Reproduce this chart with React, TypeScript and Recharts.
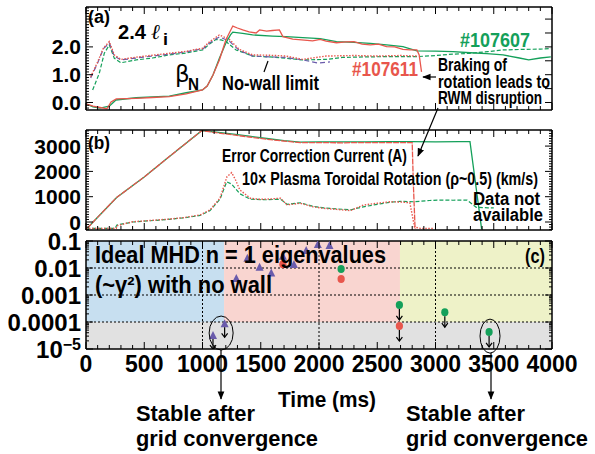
import React from 'react';
import { ComposedChart, Line, Scatter, XAxis, YAxis, ReferenceArea, ReferenceLine, ReferenceDot } from 'recharts';

// colours
const RED = '#e8564c';
const GREEN = '#14a05a';
const PURPLE = '#6a5bab';
const FONT = '"Liberation Sans", Arial, sans-serif';
const NARROW = '"Liberation Sans Narrow", "Liberation Sans", Arial, sans-serif';

// ---------- panel (a): beta_N, 2.4 li and no-wall limit ----------
const betaRedT = [0, 60, 120, 180, 215, 260, 350, 430, 570, 715, 860, 1000, 1040, 1090, 1145, 1200, 1260, 1300, 1345, 1400, 1460, 1490, 1550, 1600, 1660, 1690, 1775, 1850, 1945, 2010, 2060, 2150, 2230, 2300, 2370, 2440, 2510, 2580, 2650, 2720, 2780, 2840, 2860, 2880];
const betaRedV = [-0.05, -0.13, -0.18, -0.23, 0.02, 0.13, 0.14, 0.15, 0.18, 0.21, 0.31, 0.45, 0.59, 0.99, 1.53, 2.25, 2.75, 2.68, 2.61, 2.54, 2.5, 2.61, 2.57, 2.59, 2.61, 2.37, 2.28, 2.25, 2.22, 2.27, 2.21, 2.15, 2.18, 2.19, 2.1, 2.07, 2.1, 2.01, 2.0, 1.91, 1.89, 1.89, 1.71, 1.1];

const betaGreenT = [0, 60, 120, 200, 257, 430, 570, 715, 860, 1000, 1040, 1090, 1145, 1200, 1240, 1260, 1345, 1430, 1600, 1717, 1860, 2010, 2150, 2300, 2440, 2580, 2720, 2840, 3000, 3150, 3300, 3440, 3580, 3720, 3800, 3900, 3990];
const betaGreenV = [-0.05, -0.16, -0.2, -0.13, 0.09, 0.17, 0.2, 0.23, 0.35, 0.45, 0.59, 0.99, 1.59, 2.13, 2.43, 2.53, 2.49, 2.43, 2.39, 2.37, 2.33, 2.3, 2.19, 2.16, 2.13, 2.07, 2.01, 1.86, 1.85, 1.83, 1.79, 1.76, 1.71, 1.6, 1.53, 1.6, 1.64];

const liGreenT = [57, 114, 157, 200, 243, 300, 430, 570, 715, 860, 944, 1001, 1060, 1116, 1160, 1202, 1288, 1431, 1575, 1717, 1860, 2060, 2200, 2400, 2600, 2840, 3000, 3150, 3295, 3450, 3580, 3750, 3900, 3990];
const liGreenV = [0.45, 1.05, 1.77, 2.07, 1.59, 1.43, 1.53, 1.6, 1.71, 1.78, 1.85, 1.89, 2.1, 2.27, 2.25, 2.19, 1.89, 1.67, 1.64, 1.59, 1.53, 1.55, 1.62, 1.64, 1.65, 1.65, 1.69, 1.74, 1.77, 1.83, 1.89, 1.91, 1.92, 1.94];

const liRedT = [40, 100, 150, 200, 243, 300, 430, 570, 715, 860, 944, 1001, 1060, 1144, 1230, 1316, 1431, 1575, 1717, 1860, 2060, 2300, 2500, 2700, 2840];
const liRedV = [0.92, 1.46, 1.96, 2.19, 1.71, 1.55, 1.63, 1.7, 1.77, 1.84, 1.91, 1.95, 2.18, 2.43, 2.27, 1.91, 1.71, 1.7, 1.67, 1.55, 1.67, 1.69, 1.67, 1.69, 1.67];

const noWallT = [40, 100, 150, 200, 243, 300, 430, 570, 715, 860, 944, 1001, 1060, 1144, 1230, 1316, 1431, 1575, 1717, 1860, 1990, 2094];
const noWallV = [0.88, 1.42, 1.94, 2.14, 1.67, 1.53, 1.6, 1.67, 1.74, 1.82, 1.89, 1.92, 2.14, 2.36, 2.21, 1.87, 1.67, 1.64, 1.62, 1.53, 1.42, 1.46];

// ---------- panel (b): error correction current and rotation ----------
const ecRedT = [10, 63, 263, 500, 700, 993, 1100, 1266, 1400, 1552, 1700, 1838, 2000, 2200, 2400, 2600, 2800, 2810, 2825];
const ecRedV = [-250, 10, 970, 1780, 2530, 3610, 3540, 3440, 3360, 3270, 3200, 3135, 3140, 3130, 3140, 3135, 3140, 1500, -280];

const ecGreenT = [10, 63, 263, 500, 700, 993, 1100, 1266, 1400, 1552, 1700, 1838, 2000, 2200, 2400, 2600, 2800, 3000, 3200, 3296, 3396];
const ecGreenV = [-250, 10, 970, 1780, 2530, 3610, 3560, 3470, 3390, 3300, 3220, 3160, 3170, 3165, 3170, 3175, 3175, 3170, 3175, 3175, -280];

const rotRedT = [0, 260, 265, 400, 550, 700, 850, 980, 1065, 1150, 1210, 1250, 1280, 1320, 1410, 1480, 1550, 1670, 1725, 1840, 1950, 2040, 2150, 2270, 2380, 2500, 2610, 2700, 2780, 2820, 2870, 2985];
const rotRedV = [-250, -250, -150, 10, 60, 110, 180, 280, 480, 940, 1790, 1950, 1700, 1270, 940, 900, 900, 940, 680, 740, 600, 540, 500, 450, 670, 740, 800, 790, 760, -200, -250, -250];

const rotGreenT = [0, 250, 265, 400, 550, 700, 850, 980, 1065, 1150, 1208, 1250, 1320, 1410, 1550, 1670, 1725, 1840, 1950, 2040, 2150, 2270, 2380, 2500, 2610, 2700, 2810, 2950, 3040, 3150, 3270, 3350, 3450, 3500];
const rotGreenV = [-250, -250, -120, 0, 50, 100, 170, 260, 450, 900, 1590, 1500, 1120, 900, 880, 900, 700, 760, 620, 560, 520, 480, 600, 700, 780, 820, 800, 850, 870, 860, 870, 580, 560, 560];

// ---------- panel (c): ideal MHD n=1 eigenvalues ----------
const triT = [1090, 1190, 1290, 1385, 1490, 1590, 1690, 1785, 1890, 1990, 2090];
const triV = [3.0e-5, 8.2e-5, 3.9e-3, 0.022, 0.0102, 0.0063, 0.026, 0.013, 0.043, 0.071, 0.065];
const triBound = [true, true, false, false, false, false, false, false, false, false, false];

const redDotT = [1690, 2190, 2690];
const redDotV = [0.0137, 0.0039, 7.1e-5];
const redDotBound = [false, false, true];

const greenDotT = [2190, 2690, 3080, 3460];
const greenDotV = [0.0091, 4.3e-4, 2.3e-4, 4.3e-5];
const greenDotBound = [false, true, true, true];

const pts = (ts: number[], vs: number[], bs?: boolean[]) =>
  ts.map((t, i) => ({ t, v: vs[i], bound: bs ? bs[i] : false }));

const timeTicks = Array.from({ length: 41 }, (_, i) => i * 100);
const aLeftTicks = Array.from({ length: 37 }, (_, i) => Math.round((i * 0.1 - 0.2) * 10) / 10);
const aRightTicks = [0, 0.5, 1, 1.5, 2, 2.5, 3];
const bTicks = Array.from({ length: 40 }, (_, i) => i * 100 - 300);
const cTicks: number[] = [];
[-5, -4, -3, -2].forEach((d) => {
  for (let k = 1; k <= 9; k++) cTicks.push(Number((k * Math.pow(10, d)).toPrecision(3)));
});
cTicks.push(0.1);

const axisLine = { stroke: '#000', strokeWidth: 1.5 };

const makeXTick = (side: 'top' | 'bottom', labels: boolean) => (p: any) => {
  const v = p.payload.value;
  const major = v % 500 === 0;
  const len = major ? 7 : 4;
  const dir = side === 'bottom' ? -1 : 1;
  return (
    <g>
      <line x1={p.x} x2={p.x} y1={p.y} y2={p.y + dir * len} stroke="#000" strokeWidth={1} />
      {labels && major ? (
        <text x={p.x} y={p.y + 23} textAnchor="middle" fontFamily={FONT} fontWeight="bold" fontSize={23} fill="#000">
          {v}
        </text>
      ) : null}
    </g>
  );
};

const makeYTick = (
  side: 'left' | 'right',
  isMajor: (v: number) => boolean,
  label: (v: number) => React.ReactNode,
  size: number
) => (p: any) => {
  const v = p.payload.value;
  const major = isMajor(v);
  const len = major ? 7 : 3;
  const dir = side === 'left' ? 1 : -1;
  const txt = label(v);
  return (
    <g>
      <line x1={p.x} x2={p.x + dir * len} y1={p.y} y2={p.y} stroke="#000" strokeWidth={1} />
      {txt !== null ? (
        <text x={p.x - 5} y={p.y} dy="0.36em" textAnchor="end" fontFamily={FONT} fontWeight="bold" fontSize={size} fill="#000">
          {txt}
        </text>
      ) : null}
    </g>
  );
};

const noLabel = () => null;

const xAxes = (topH: number, botH: number, labels: boolean) => [
  <XAxis key="xb" xAxisId="b" dataKey="t" type="number" domain={[0, 4000]} ticks={timeTicks} interval={0}
    tickSize={0} tickMargin={0} tick={makeXTick('bottom', labels)} axisLine={axisLine} height={botH} allowDataOverflow />,
  <XAxis key="xt" xAxisId="t" orientation="top" dataKey="t" type="number" domain={[0, 4000]} ticks={timeTicks} interval={0}
    tickSize={0} tickMargin={0} tick={makeXTick('top', false)} axisLine={axisLine} height={topH} allowDataOverflow />,
];

const PanelA = () => (
  <ComposedChart width={595} height={118} margin={{ top: 0, right: 0, bottom: 0, left: 0 }}>
    {xAxes(7, 8, false)}
    <YAxis yAxisId="l" type="number" domain={[-0.27, 3.435]} ticks={aLeftTicks} interval={0} width={86}
      tickSize={0} tickMargin={0} axisLine={axisLine} allowDataOverflow
      tick={makeYTick('left', (v) => Math.abs(v - Math.round(v)) < 1e-6, (v) => ([0, 1, 2].includes(v) ? v.toFixed(1) : null), 21)} />
    <YAxis yAxisId="r" orientation="right" type="number" domain={[-0.27, 3.435]} ticks={aRightTicks} interval={0} width={43}
      tickSize={0} tickMargin={0} axisLine={axisLine} allowDataOverflow
      tick={makeYTick('right', () => true, noLabel, 21)} />
    <Line xAxisId="b" yAxisId="l" data={pts(liGreenT, liGreenV)} dataKey="v" stroke={GREEN} strokeWidth={1.2} strokeDasharray="4 2" dot={false} isAnimationActive={false} />
    <Line xAxisId="b" yAxisId="l" data={pts(noWallT, noWallV)} dataKey="v" stroke={PURPLE} strokeWidth={1.2} strokeDasharray="5 3" dot={false} isAnimationActive={false} />
    <Line xAxisId="b" yAxisId="l" data={pts(liRedT, liRedV)} dataKey="v" stroke={RED} strokeWidth={1.4} strokeDasharray="1.5 1.5" dot={false} isAnimationActive={false} />
    <Line xAxisId="b" yAxisId="l" data={pts(betaGreenT, betaGreenV)} dataKey="v" stroke={GREEN} strokeWidth={1.3} dot={false} isAnimationActive={false} />
    <Line xAxisId="b" yAxisId="l" data={pts(betaRedT, betaRedV)} dataKey="v" stroke={RED} strokeWidth={1.3} dot={false} isAnimationActive={false} />
  </ComposedChart>
);

const PanelB = () => (
  <ComposedChart width={595} height={120} margin={{ top: 0, right: 0, bottom: 0, left: 0 }}>
    {xAxes(10, 10, false)}
    <YAxis yAxisId="l" type="number" domain={[-316, 3636]} ticks={bTicks} interval={0} width={86}
      tickSize={0} tickMargin={0} axisLine={axisLine} allowDataOverflow
      tick={makeYTick('left', (v) => v % 1000 === 0, (v) => (v >= 0 && v % 1000 === 0 ? String(v) : null), 21)} />
    <YAxis yAxisId="r" orientation="right" type="number" domain={[-316, 3636]} ticks={bTicks} interval={0} width={43}
      tickSize={0} tickMargin={0} axisLine={axisLine} allowDataOverflow
      tick={makeYTick('right', (v) => v % 1000 === 0, noLabel, 21)} />
    <Line xAxisId="b" yAxisId="l" data={pts(rotGreenT, rotGreenV)} dataKey="v" stroke={GREEN} strokeWidth={1.2} strokeDasharray="4 2" dot={false} isAnimationActive={false} />
    <Line xAxisId="b" yAxisId="l" data={pts(rotRedT, rotRedV)} dataKey="v" stroke={RED} strokeWidth={1.4} strokeDasharray="1.5 1.5" dot={false} isAnimationActive={false} />
    <Line xAxisId="b" yAxisId="l" data={pts(ecGreenT, ecGreenV)} dataKey="v" stroke={GREEN} strokeWidth={1.3} dot={false} isAnimationActive={false} />
    <Line xAxisId="b" yAxisId="l" data={pts(ecRedT, ecRedV)} dataKey="v" stroke={RED} strokeWidth={1.3} strokeDasharray="6 1" dot={false} isAnimationActive={false} />
  </ComposedChart>
);

const DownArrow = ({ x, y, len }: { x: number; y: number; len: number }) => (
  <g>
    <line x1={x} x2={x} y1={y} y2={y + len} stroke="#000" strokeWidth={1.2} />
    <path d={`M${x - 3},${y + len - 4} L${x},${y + len} L${x + 3},${y + len - 4}`} fill="none" stroke="#000" strokeWidth={1.2} />
  </g>
);

const triShape = (p: any) => (
  <g>
    <polygon points={`${p.cx},${p.cy - 5} ${p.cx - 4},${p.cy + 3} ${p.cx + 4},${p.cy + 3}`} fill={PURPLE} />
    {p.payload.bound ? <DownArrow x={p.cx} y={p.cy + 3} len={10} /> : null}
  </g>
);

const dotShape = (color: string) => (p: any) => (
  <g>
    <ellipse cx={p.cx} cy={p.cy} rx={3.6} ry={4} fill={color} />
    {p.payload.bound ? <DownArrow x={p.cx} y={p.cy + 4} len={11} /> : null}
  </g>
);

const ringShape = (rx: number, ry: number) => (p: any) => (
  <ellipse cx={p.cx} cy={p.cy} rx={rx} ry={ry} fill="none" stroke="#000" strokeWidth={1} />
);

const cLabel = (v: number): React.ReactNode => {
  if (Math.abs(v - 1e-5) < 1e-12) return (
    <>
      <tspan>10</tspan>
      <tspan dy="-8" fontSize={16}>−5</tspan>
    </>
  );
  if (Math.abs(v - 1e-4) < 1e-12) return '0.0001';
  if (Math.abs(v - 1e-3) < 1e-12) return '0.001';
  if (Math.abs(v - 1e-2) < 1e-12) return '0.01';
  if (Math.abs(v - 0.1) < 1e-12) return '0.1';
  return null;
};
const isDecade = (v: number) => Math.abs(Math.log10(v) - Math.round(Math.log10(v))) < 1e-6;

const PanelC = () => (
  <ComposedChart width={595} height={228} margin={{ top: 0, right: 0, bottom: 0, left: 0 }}>
    {xAxes(15, 105, true)}
    <YAxis yAxisId="l" dataKey="v" type="number" scale="log" domain={[1e-5, 0.1]} ticks={cTicks} interval={0} width={86}
      tickSize={0} tickMargin={0} axisLine={axisLine} allowDataOverflow
      tick={makeYTick('left', isDecade, cLabel, 24)} />
    <YAxis yAxisId="r" orientation="right" dataKey="v" type="number" scale="log" domain={[1e-5, 0.1]} ticks={cTicks} interval={0} width={43}
      tickSize={0} tickMargin={0} axisLine={axisLine} allowDataOverflow
      tick={makeYTick('right', isDecade, noLabel, 24)} />
    <ReferenceArea xAxisId="b" yAxisId="l" x1={0} x2={1185} y1={1e-4} y2={0.1} fill="#c7dff0" fillOpacity={1} stroke="none" />
    <ReferenceArea xAxisId="b" yAxisId="l" x1={1185} x2={2695} y1={1e-4} y2={0.1} fill="#f9d5d0" fillOpacity={1} stroke="none" />
    <ReferenceArea xAxisId="b" yAxisId="l" x1={2695} x2={4000} y1={1e-4} y2={0.1} fill="#eef2c8" fillOpacity={1} stroke="none" />
    <ReferenceArea xAxisId="b" yAxisId="l" x1={0} x2={4000} y1={1e-5} y2={1e-4} fill="#e1e1e1" fillOpacity={1} stroke="none" />
    {[1000, 2000, 3000].map((x) => (
      <ReferenceLine key={'vx' + x} xAxisId="b" yAxisId="l" x={x} stroke="#000" strokeWidth={1} strokeDasharray="2 2" />
    ))}
    {[1e-4, 1e-3, 1e-2].map((y) => (
      <ReferenceLine key={'hy' + y} xAxisId="b" yAxisId="l" y={y} stroke="#000" strokeWidth={1} strokeDasharray="2 2" />
    ))}
    <Scatter xAxisId="b" yAxisId="l" data={pts(triT, triV, triBound)} dataKey="v" shape={triShape} isAnimationActive={false} />
    <Scatter xAxisId="b" yAxisId="l" data={pts(redDotT, redDotV, redDotBound)} dataKey="v" shape={dotShape(RED)} isAnimationActive={false} />
    <Scatter xAxisId="b" yAxisId="l" data={pts(greenDotT, greenDotV, greenDotBound)} dataKey="v" shape={dotShape(GREEN)} isAnimationActive={false} />
    <ReferenceDot xAxisId="b" yAxisId="l" x={1160} y={3.9e-5} ifOverflow="visible" shape={ringShape(12, 17)} />
    <ReferenceDot xAxisId="b" yAxisId="l" x={3468} y={3.0e-5} ifOverflow="visible" shape={ringShape(10, 17)} />
  </ComposedChart>
);

const Txt = ({ x, y, w, size, color = '#000', children, family = NARROW }: any) => (
  <text x={x} y={y} fontFamily={family} fontWeight="bold" fontSize={size} fill={color}
    textLength={w} lengthAdjust="spacingAndGlyphs">
    {children}
  </text>
);

const Overlay = () => (
  <svg width={595} height={454} style={{ position: 'absolute', left: 0, top: 0, pointerEvents: 'none' }}>
    <defs>
      <marker id="ah" viewBox="0 0 10 10" refX="9" refY="5" markerWidth="7" markerHeight="7" orient="auto">
        <path d="M0,1 L10,5 L0,9 z" fill="#000" />
      </marker>
    </defs>
    {/* panel a */}
    <Txt x={88} y={23} w={22} size={18}>(a)</Txt>
    <Txt x={118} y={39} w={28} size={20}>2.4</Txt>
    <text x={151} y={39} fontFamily='"DejaVu Serif", serif' fontStyle="italic" fontSize={21} fill="#000">ℓ</text>
    <Txt x={163} y={45} w={5} size={16}>i</Txt>
    <text x={175} y={82} fontFamily='"DejaVu Sans", sans-serif' fontSize={23} fill="#000">β</text>
    <Txt x={188} y={90} w={11} size={17}>N</Txt>
    <Txt x={222} y={90} w={97} size={20}>No-wall limit</Txt>
    <line x1={264} y1={72} x2={268} y2={61} stroke="#000" strokeWidth={1.2} />
    <Txt x={460} y={47} w={70} size={20} color={GREEN}>#107607</Txt>
    <Txt x={352} y={76} w={66} size={20} color={RED}>#107611</Txt>
    <Txt x={438} y={71} w={69} size={18}>Braking of</Txt>
    <Txt x={438} y={88} w={112} size={18}>rotation leads to</Txt>
    <Txt x={438} y={104} w={104} size={18}>RWM disruption</Txt>
    <line x1={436} y1={77} x2={423} y2={77} stroke="#000" strokeWidth={1.2} markerEnd="url(#ah)" />
    <line x1={438} y1={108} x2={418} y2={156} stroke="#000" strokeWidth={1.2} markerEnd="url(#ah)" />
    {/* panel b */}
    <Txt x={88} y={149} w={22} size={18}>(b)</Txt>
    <Txt x={222} y={162} w={185} size={18}>Error Correction Current (A)</Txt>
    <Txt x={242} y={185} w={296} size={18}>10× Plasma Toroidal Rotation (ρ~0.5) (km/s)</Txt>
    <Txt x={473} y={205} w={67} size={18}>Data not</Txt>
    <Txt x={473} y={221} w={70} size={18}>available</Txt>
    {/* panel c */}
    <Txt x={95} y={263} w={291} size={23}>Ideal MHD n = 1 eigenvalues</Txt>
    <Txt x={95} y={293} w={177} size={23}>(~γ²) with no wall</Txt>
    <Txt x={525} y={263} w={20} size={20}>(c)</Txt>
    <line x1={221} y1={350} x2={221} y2={399} stroke="#000" strokeWidth={1.2} markerEnd="url(#ah)" />
    <line x1={491} y1={353} x2={491} y2={399} stroke="#000" strokeWidth={1.2} markerEnd="url(#ah)" />
    <Txt x={278} y={407} w={98} size={22}>Time (ms)</Txt>
    <Txt x={136} y={421} w={119} size={22}>Stable after</Txt>
    <Txt x={136} y={446} w={182} size={22}>grid convergence</Txt>
    <Txt x={406} y={421} w={119} size={22}>Stable after</Txt>
    <Txt x={406} y={446} w={182} size={22}>grid convergence</Txt>
  </svg>
);

export default function App() {
  return (
    <div style={{ position: 'absolute', left: 0, top: 0, width: 595, height: 454, background: '#fff' }}>
      <div style={{ position: 'absolute', left: 0, top: 0 }}><PanelA /></div>
      <div style={{ position: 'absolute', left: 0, top: 120 }}><PanelB /></div>
      <div style={{ position: 'absolute', left: 0, top: 226 }}><PanelC /></div>
      <Overlay />
    </div>
  );
}
